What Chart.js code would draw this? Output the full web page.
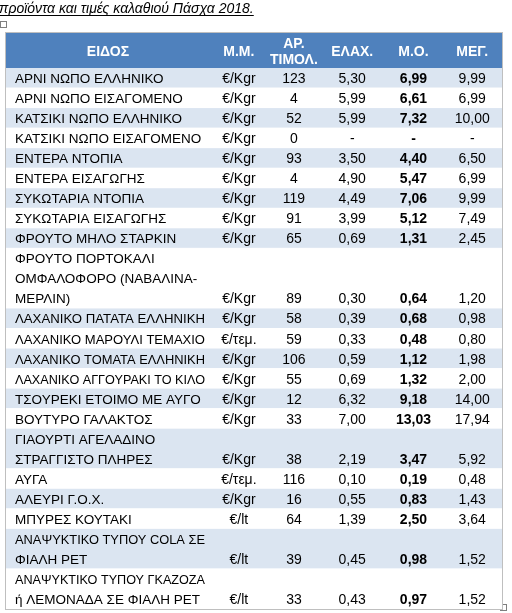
<!DOCTYPE html>
<html><head><meta charset="utf-8">
<script src="https://cdn.jsdelivr.net/npm/chart.js@4/dist/chart.umd.min.js"></script>
<style>html,body{margin:0;padding:0;background:#fff}#c{display:block}</style>
</head><body>
<div style="width:512px;height:613px"><canvas id="c"></canvas></div>
<script>
const title = "προϊόντα και τιμές καλαθιού Πάσχα 2018.";
const headers = ["ΕΙΔΟΣ","Μ.Μ.","ΑΡ.\nΤΙΜΟΛ.","ΕΛΑΧ.","Μ.Ο.","ΜΕΓ."];
const items = ["ΑΡΝΙ ΝΩΠΟ ΕΛΛΗΝΙΚΟ","ΑΡΝΙ ΝΩΠΟ ΕΙΣΑΓΟΜΕΝΟ","ΚΑΤΣΙΚΙ ΝΩΠΟ ΕΛΛΗΝΙΚΟ","ΚΑΤΣΙΚΙ ΝΩΠΟ ΕΙΣΑΓΟΜΕΝΟ","ΕΝΤΕΡΑ ΝΤΟΠΙΑ","ΕΝΤΕΡΑ ΕΙΣΑΓΩΓΗΣ","ΣΥΚΩΤΑΡΙΑ ΝΤΟΠΙΑ","ΣΥΚΩΤΑΡΙΑ ΕΙΣΑΓΩΓΗΣ","ΦΡΟΥΤΟ ΜΗΛΟ ΣΤΑΡΚΙΝ","ΦΡΟΥΤΟ ΠΟΡΤΟΚΑΛΙ\nΟΜΦΑΛΟΦΟΡΟ (ΝΑΒΑΛΙΝΑ-\nΜΕΡΛΙΝ)","ΛΑΧΑΝΙΚΟ ΠΑΤΑΤΑ ΕΛΛΗΝΙΚΗ","ΛΑΧΑΝΙΚΟ ΜΑΡΟΥΛΙ ΤΕΜΑΧΙΟ","ΛΑΧΑΝΙΚΟ ΤΟΜΑΤΑ ΕΛΛΗΝΙΚΗ","ΛΑΧΑΝΙΚΟ ΑΓΓΟΥΡΑΚΙ ΤΟ ΚΙΛΟ","ΤΣΟΥΡΕΚΙ ΕΤΟΙΜΟ ΜΕ ΑΥΓΟ","ΒΟΥΤΥΡΟ ΓΑΛΑΚΤΟΣ","ΓΙΑΟΥΡΤΙ ΑΓΕΛΑΔΙΝΟ\nΣΤΡΑΓΓΙΣΤΟ ΠΛΗΡΕΣ","ΑΥΓΑ","ΑΛΕΥΡΙ Γ.Ο.Χ.","ΜΠΥΡΕΣ ΚΟΥΤΑΚΙ","ΑΝΑΨΥΚΤΙΚΟ ΤΥΠΟΥ COLA ΣΕ\nΦΙΑΛΗ PET","ΑΝΑΨΥΚΤΙΚΟ ΤΥΠΟΥ ΓΚΑΖΟΖΑ\nή ΛΕΜΟΝΑΔΑ ΣΕ ΦΙΑΛΗ PET"];
const units = ["€/Kgr","€/Kgr","€/Kgr","€/Kgr","€/Kgr","€/Kgr","€/Kgr","€/Kgr","€/Kgr","€/Kgr","€/Kgr","€/τεμ.","€/Kgr","€/Kgr","€/Kgr","€/Kgr","€/Kgr","€/τεμ.","€/Kgr","€/lt","€/lt","€/lt"];
const invoices = ["123","4","52","0","93","4","119","91","65","89","58","59","106","55","12","33","38","116","16","64","39","33"];
const minPrice = ["5,30","5,99","5,99","-","3,50","4,90","4,49","3,99","0,69","0,30","0,39","0,33","0,59","0,69","6,32","7,00","2,19","0,10","0,55","1,39","0,45","0,43"];
const avgPrice = ["6,99","6,61","7,32","-","4,40","5,47","7,06","5,12","1,31","0,64","0,68","0,48","1,12","1,32","9,18","13,03","3,47","0,19","0,83","2,50","0,98","0,97"];
const maxPrice = ["9,99","6,99","10,00","-","6,50","6,99","9,99","7,49","2,45","1,20","0,98","0,80","1,98","2,00","14,00","17,94","5,92","0,48","1,43","3,64","1,52","1,52"];

const lineCounts = items.map(s => s.split("\n").length);
const starts = []; let acc = 0;
lineCounts.forEach(n => { starts.push(acc); acc += n; });
const totalLines = acc;
const colEdges = [0, 0.411, 0.528, 0.633, 0.763, 0.88, 1];

const FONT = '"Liberation Sans Narrow","Liberation Sans",Arial,sans-serif';

const tablePlugin = {
  id: 'table',
  afterDraw(chart) {
    const ctx = chart.ctx, xs = chart.scales.x, ys = chart.scales.y;
    const X = v => xs.getPixelForValue(v), Y = v => ys.getPixelForValue(v);
    const left = X(0), right = X(1), top = Y(0);
    ctx.save();
    ctx.font = 'italic 14px "Liberation Sans",Arial,sans-serif';
    ctx.fillStyle = '#000'; ctx.textBaseline = 'alphabetic'; ctx.textAlign = 'left';
    ctx.fillText(title, -1, 13);
    const tw = ctx.measureText(title).width;
    ctx.fillRect(0, 15, tw - 1, 1);
    ctx.strokeStyle = '#7f7f7f'; ctx.lineWidth = 1; ctx.strokeRect(0.5, 21.5, 6, 6);
    ctx.strokeRect(500.5, 604.5, 6, 6);
    const hTop = top - 35;
    ctx.fillStyle = '#4f81bd'; ctx.fillRect(left, hTop, right - left, 35);
    ctx.fillStyle = '#fff'; ctx.textAlign = 'center';
    ctx.font = 'bold 14px ' + FONT;
    headers.forEach((h, i) => {
      const cx = (X(colEdges[i]) + X(colEdges[i + 1])) / 2;
      const ls = h.split("\n");
      if (ls.length === 1) ctx.fillText(h, cx, hTop + 23);
      else { ctx.fillText(ls[0], cx, hTop + 15); ctx.fillText(ls[1], cx, hTop + 31); }
    });
    items.forEach((name, r) => {
      const y0 = Y(starts[r]), y1 = Y(starts[r] + lineCounts[r]);
      ctx.fillStyle = r % 2 === 0 ? '#dbe5f1' : '#ffffff';
      ctx.fillRect(left, y0, right - left, y1 - y0);
      ctx.fillStyle = '#ffffff'; ctx.fillRect(left, y1 - 0.5, right - left, 1);
      ctx.fillStyle = '#000';
      ctx.font = '13.5px ' + FONT; ctx.textAlign = 'left';
      const ls = name.split("\n");
      ls.forEach((l, k) => ctx.fillText(l, X(colEdges[0]) + 9, Y(starts[r] + k + 1) - 5, 190));
      const base = y1 - 5;
      const vals = [units[r], invoices[r], minPrice[r], avgPrice[r], maxPrice[r]];
      ctx.textAlign = 'center';
      vals.forEach((v, i) => {
        ctx.font = (i === 3 ? 'bold ' : '') + '14px ' + FONT;
        const cx = (X(colEdges[i + 1]) + X(colEdges[i + 2])) / 2;
        ctx.fillText(v, cx, base);
      });
    });
    ctx.strokeStyle = '#bfbfbf'; ctx.lineWidth = 1;
    ctx.strokeRect(left - 0.5, hTop - 0.5, right - left + 1, Y(totalLines) - hTop + 1);
    ctx.restore();
  }
};

new Chart(document.getElementById('c'), {
  type: 'scatter',
  data: { datasets: [{ data: [], showLine: false }] },
  options: {
    responsive: true, maintainAspectRatio: false, animation: false,
    layout: { padding: { top: 68, bottom: 4, left: 6, right: 10 } },
    plugins: { legend: { display: false }, tooltip: { enabled: false } },
    scales: {
      x: { type: 'linear', min: 0, max: 1, display: false },
      y: { type: 'linear', min: 0, max: totalLines, reverse: true, display: false }
    }
  },
  plugins: [tablePlugin]
});
</script>
</body></html>
